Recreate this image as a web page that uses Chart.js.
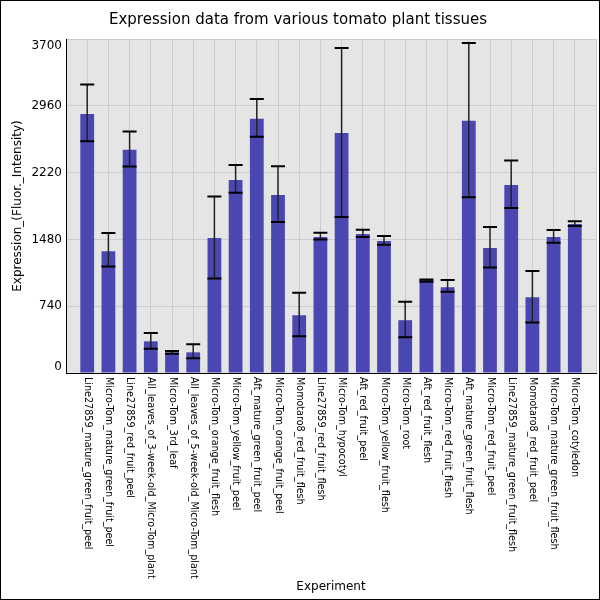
<!DOCTYPE html>
<html>
<head>
<meta charset="utf-8">
<title>Expression data from various tomato plant tissues</title>
<script src="https://cdn.jsdelivr.net/npm/chart.js@4"></script>
<style>
  html, body { margin: 0; padding: 0; background: #fff; }
  #wrap { width: 600px; height: 600px; }
</style>
</head>
<body>
<div id="wrap"><canvas id="myChart" width="600" height="600"></canvas></div>
<script>
// experiments, in the order they appear on the x axis
let experiments = [
    'Line27859_mature_green_fruit_peel',
    'Micro-Tom_mature_green_fruit_peel',
    'Line27859_red_fruit_peel',
    'All_leaves_of_3-week-old_Micro-Tom_plant',
    'Micro-Tom_3rd_leaf',
    'All_leaves_of_5-week-old_Micro-Tom_plant',
    'Micro-Tom_orange_fruit_flesh',
    'Micro-Tom_yellow_fruit_peel',
    'Aft_mature_green_fruit_peel',
    'Micro-Tom_orange_fruit_peel',
    'Momotaro8_red_fruit_flesh',
    'Line27859_red_fruit_flesh',
    'Micro-Tom_hypocotyl',
    'Aft_red_fruit_peel',
    'Micro-Tom_yellow_fruit_flesh',
    'Micro-Tom_root',
    'Aft_red_fruit_flesh',
    'Micro-Tom_red_fruit_flesh',
    'Aft_mature_green_fruit_flesh',
    'Micro-Tom_red_fruit_peel',
    'Line27859_mature_green_fruit_flesh',
    'Momotaro8_red_fruit_peel',
    'Micro-Tom_mature_green_fruit_flesh',
    'Micro-Tom_cotyledon'
];

// mean expression
let expression = [2870, 1350, 2472, 351, 229, 229, 1495, 2139, 2816, 1972, 640, 1506,
                  2660, 1539, 1462, 585, 1029, 951, 2794, 1384, 2083, 840, 1506, 1650];

// error bar ends
let errHigh = [3197, 1550, 2675, 444, 244, 318, 1954, 2305, 3034, 2290, 888, 1554,
               3600, 1587, 1517, 788, 1036, 1029, 3656, 1617, 2353, 1129, 1584, 1680];
let errLow  = [2568, 1180, 2287, 270, 214, 163, 1047, 1998, 2616, 1672, 407, 1480,
               1728, 1506, 1421, 396, 1010, 899, 1946, 1169, 1828, 559, 1443, 1628];

let yTicks = [0, 740, 1480, 2220, 2960, 3700];

// empty slot on each side, like the original plot
let labels = [''].concat(experiments, ['']);
let values = [null].concat(expression, [null]);

let fontFam = "'DejaVu Sans', sans-serif";

let frame = {
    id: 'frame',
    beforeDraw: function (chart) {
        let ctx = chart.ctx;
        let a = chart.chartArea;
        ctx.save();
        ctx.fillStyle = '#ffffff';
        ctx.fillRect(0, 0, chart.width, chart.height);
        ctx.fillStyle = '#e5e5e5';
        ctx.fillRect(a.left, a.top, a.right - a.left, a.bottom - a.top);
        ctx.strokeStyle = '#000000';
        ctx.lineWidth = 1;
        ctx.strokeRect(0.5, 0.5, chart.width - 1, chart.height - 1);
        ctx.restore();
    }
};

let errorBars = {
    id: 'errorBars',
    afterDatasetsDraw: function (chart) {
        let ctx = chart.ctx;
        let y = chart.scales.y;
        let meta = chart.getDatasetMeta(0);
        ctx.save();
        for (let i = 0; i < expression.length; i++) {
            let bar = meta.data[i + 1];
            let x = bar.x;
            let top = y.getPixelForValue(errHigh[i]);
            let bot = y.getPixelForValue(errLow[i]);
            ctx.strokeStyle = '#222222';
            ctx.lineWidth = 1.5;
            ctx.beginPath();
            ctx.moveTo(x, top);
            ctx.lineTo(x, bot);
            ctx.stroke();
            ctx.strokeStyle = '#000000';
            ctx.lineWidth = 2;
            ctx.beginPath();
            ctx.moveTo(x - 7, top);
            ctx.lineTo(x + 7, top);
            ctx.moveTo(x - 7, bot);
            ctx.lineTo(x + 7, bot);
            ctx.stroke();
        }
        ctx.restore();
    }
};

// x labels read top to bottom, and the end y labels stay inside the plot,
// so both are drawn here
let axisText = {
    id: 'axisText',
    afterDraw: function (chart) {
        let ctx = chart.ctx;
        let a = chart.chartArea;
        let xs = chart.scales.x;
        let ys = chart.scales.y;
        ctx.save();
        ctx.fillStyle = '#000000';
        ctx.font = '9.6px ' + fontFam;
        ctx.textAlign = 'left';
        ctx.textBaseline = 'middle';
        for (let i = 0; i < experiments.length; i++) {
            let x = xs.getPixelForValue(i + 1);
            ctx.save();
            ctx.translate(x, a.bottom + 4);
            ctx.rotate(Math.PI / 2);
            ctx.fillText(experiments[i], 0, 0);
            ctx.restore();
        }

        ctx.font = '12px ' + fontFam;
        ctx.textAlign = 'right';
        for (let j = 0; j < yTicks.length; j++) {
            let y = ys.getPixelForValue(yTicks[j]);
            y = Math.min(Math.max(y, a.top + 7), a.bottom - 6);
            ctx.fillText(String(yTicks[j]), a.left - 4, y);
        }

        ctx.save();
        ctx.translate(18, (a.top + a.bottom) / 2);
        ctx.rotate(-Math.PI / 2);
        ctx.textAlign = 'center';
        ctx.fillText('Expression_(Fluor._Intensity)', 0, 0);
        ctx.restore();
        ctx.restore();
    }
};

let ctx = document.getElementById('myChart').getContext('2d');
let config = {
    type: 'bar',
    data: {
        labels: labels,
        datasets: [{
            data: values,
            backgroundColor: 'rgb(75, 71, 178)',
            borderWidth: 0,
            categoryPercentage: 1,
            barPercentage: 0.65
        }]
    },
    options: {
        responsive: false,
        animation: false,
        devicePixelRatio: 1,
        layout: { padding: { left: 0, right: 4, top: 0, bottom: 6 } },
        plugins: {
            legend: { display: false },
            tooltip: { enabled: false },
            title: {
                display: true,
                text: 'Expression data from various tomato plant tissues',
                color: '#000000',
                font: { family: fontFam, size: 15, weight: 'normal' },
                padding: { top: 11, bottom: 10 }
            }
        },
        scales: {
            x: {
                offset: false,
                grid: { color: '#cccccc', offset: false, drawTicks: false },
                border: { color: '#000000', width: 1 },
                ticks: { display: false },
                title: {
                    display: true,
                    text: 'Experiment',
                    color: '#000000',
                    font: { family: fontFam, size: 12 },
                    padding: 0
                },
                afterFit: function (s) { s.height = 221; }
            },
            y: {
                min: 0,
                max: 3700,
                afterBuildTicks: function (s) {
                    s.ticks = yTicks.map(function (v) { return { value: v }; });
                },
                grid: { color: '#cccccc', drawTicks: false },
                border: { color: '#000000', width: 1 },
                ticks: { display: false },
                afterFit: function (s) { s.width = 66; }
            }
        }
    },
    plugins: [frame, errorBars, axisText]
};
window.myBar = new Chart(ctx, config);
</script>
</body>
</html>
